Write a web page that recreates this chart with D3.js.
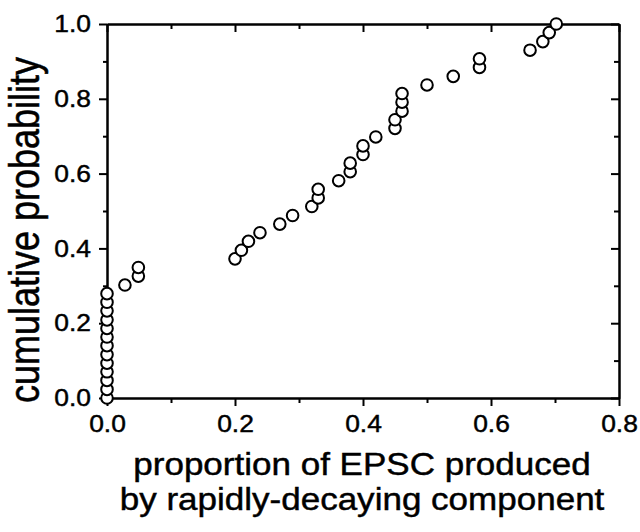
<!DOCTYPE html>
<html>
<head>
<meta charset="utf-8">
<script src="https://cdn.jsdelivr.net/npm/d3@7"></script>
<style>
  body { margin: 0; background: #fff; }
  svg { display: block; font-family: "Liberation Sans", Arial, sans-serif; }
</style>
</head>
<body>
<svg id="chart" width="640" height="532"></svg>
<script>
// values: x = proportion, y = cumulative probability
const propX = [
  0, 0, 0, 0, 0, 0, 0, 0, 0, 0, 0, 0, 0,
  0.028, 0.049, 0.049, 0.200, 0.210, 0.221, 0.239, 0.270, 0.290, 0.320,
  0.330, 0.330, 0.362, 0.380, 0.380, 0.400, 0.400, 0.420, 0.450, 0.450,
  0.461, 0.461, 0.461, 0.500, 0.541, 0.582, 0.582, 0.661, 0.681, 0.691, 0.702
];
const cumProb = [
  0.000, 0.023, 0.047, 0.070, 0.093, 0.116, 0.140, 0.163, 0.186, 0.209, 0.233, 0.256, 0.279,
  0.302, 0.326, 0.349, 0.372, 0.395, 0.419, 0.442, 0.465, 0.488, 0.512,
  0.535, 0.558, 0.581, 0.605, 0.628, 0.651, 0.674, 0.698, 0.721, 0.744,
  0.767, 0.791, 0.814, 0.837, 0.860, 0.884, 0.907, 0.930, 0.953, 0.977, 1.000
];
const xTicks = [0, 0.2, 0.4, 0.6, 0.8];
const xMinor = [0.1, 0.3, 0.5, 0.7];
const yTicks = [0, 0.2, 0.4, 0.6, 0.8, 1.0];
const yMinor = [0.1, 0.3, 0.5, 0.7, 0.9];
const xTitleLines = ["proportion of EPSC produced", "by rapidly-decaying component"];
const yTitle = "cumulative probability";

const margin = { top: 24, right: 21, bottom: 134, left: 107 };
const width = 640, height = 532;
const svg = d3.select("#chart");

const x = d3.scaleLinear().domain([0, 0.8]).range([margin.left, width - margin.right]);
const y = d3.scaleLinear().domain([0, 1]).range([height - margin.bottom, margin.top]);
const fmt = d3.format(".1f");

function styleAxis(g) {
  g.select(".domain").attr("stroke", "#000").attr("stroke-width", 2);
  g.selectAll(".tick line").attr("stroke", "#000").attr("stroke-width", 2);
}

// scanned text looks a bit heavier than plain regular weight
function inkText(sel) {
  sel.attr("fill", "#000").attr("stroke", "#000").attr("stroke-width", 0.45);
}

// minor ticks first, then major axes on top
svg.append("g").attr("transform", `translate(0,${y(0)})`)
  .call(d3.axisBottom(x).tickValues(xMinor).tickSize(5).tickSizeOuter(0).tickFormat(""))
  .call(styleAxis);
svg.append("g").attr("transform", `translate(0,${y(1)})`)
  .call(d3.axisTop(x).tickValues(xMinor).tickSize(-5).tickSizeOuter(0).tickFormat(""))
  .call(styleAxis);
svg.append("g").attr("transform", `translate(${x(0)},0)`)
  .call(d3.axisLeft(y).tickValues(yMinor).tickSize(4).tickSizeOuter(0).tickFormat(""))
  .call(styleAxis);
svg.append("g").attr("transform", `translate(${x(0.8)},0)`)
  .call(d3.axisRight(y).tickValues(yMinor).tickSize(-5).tickSizeOuter(0).tickFormat(""))
  .call(styleAxis);

const xAxis = svg.append("g").attr("transform", `translate(0,${y(0)})`)
  .call(d3.axisBottom(x).tickValues(xTicks).tickSize(8).tickSizeOuter(0).tickFormat(fmt))
  .call(styleAxis);
xAxis.selectAll("text")
  .attr("y", 34).attr("dy", null)
  .attr("font-size", 24)
  .attr("transform", "scale(1.1,1)")
  .call(inkText);

svg.append("g").attr("transform", `translate(0,${y(1)})`)
  .call(d3.axisTop(x).tickValues(xTicks).tickSize(-8).tickSizeOuter(0).tickFormat(""))
  .call(styleAxis);

const yAxis = svg.append("g").attr("transform", `translate(${x(0)},0)`)
  .call(d3.axisLeft(y).tickValues(yTicks).tickSize(8).tickSizeOuter(0).tickFormat(fmt))
  .call(styleAxis);
yAxis.selectAll("text")
  .attr("x", -16 / 1.1)
  .attr("font-size", 24)
  .attr("transform", "scale(1.1,1)")
  .call(inkText);

svg.append("g").attr("transform", `translate(${x(0.8)},0)`)
  .call(d3.axisRight(y).tickValues(yTicks).tickSize(-8).tickSizeOuter(0).tickFormat(""))
  .call(styleAxis);

// points
const pts = propX.map((v, i) => ({ x: v, y: cumProb[i] }));
svg.append("g").selectAll("circle").data(pts).join("circle")
  .attr("cx", d => x(d.x))
  .attr("cy", d => y(d.y))
  .attr("r", 5.8)
  .attr("fill", "#fff")
  .attr("stroke", "#000")
  .attr("stroke-width", 2);

// axis titles
svg.append("g").selectAll("text").data(xTitleLines).join("text")
  .attr("transform", (d, i) => `translate(362,${475 + i * 35}) scale(1.13,1)`)
  .attr("text-anchor", "middle")
  .attr("font-size", 31)
  .text(d => d)
  .call(inkText);

svg.append("text")
  .attr("transform", "translate(39,230) rotate(-90) scale(1,1.18)")
  .attr("text-anchor", "middle")
  .attr("font-size", 36)
  .text(yTitle)
  .call(inkText);
</script>
</body>
</html>
